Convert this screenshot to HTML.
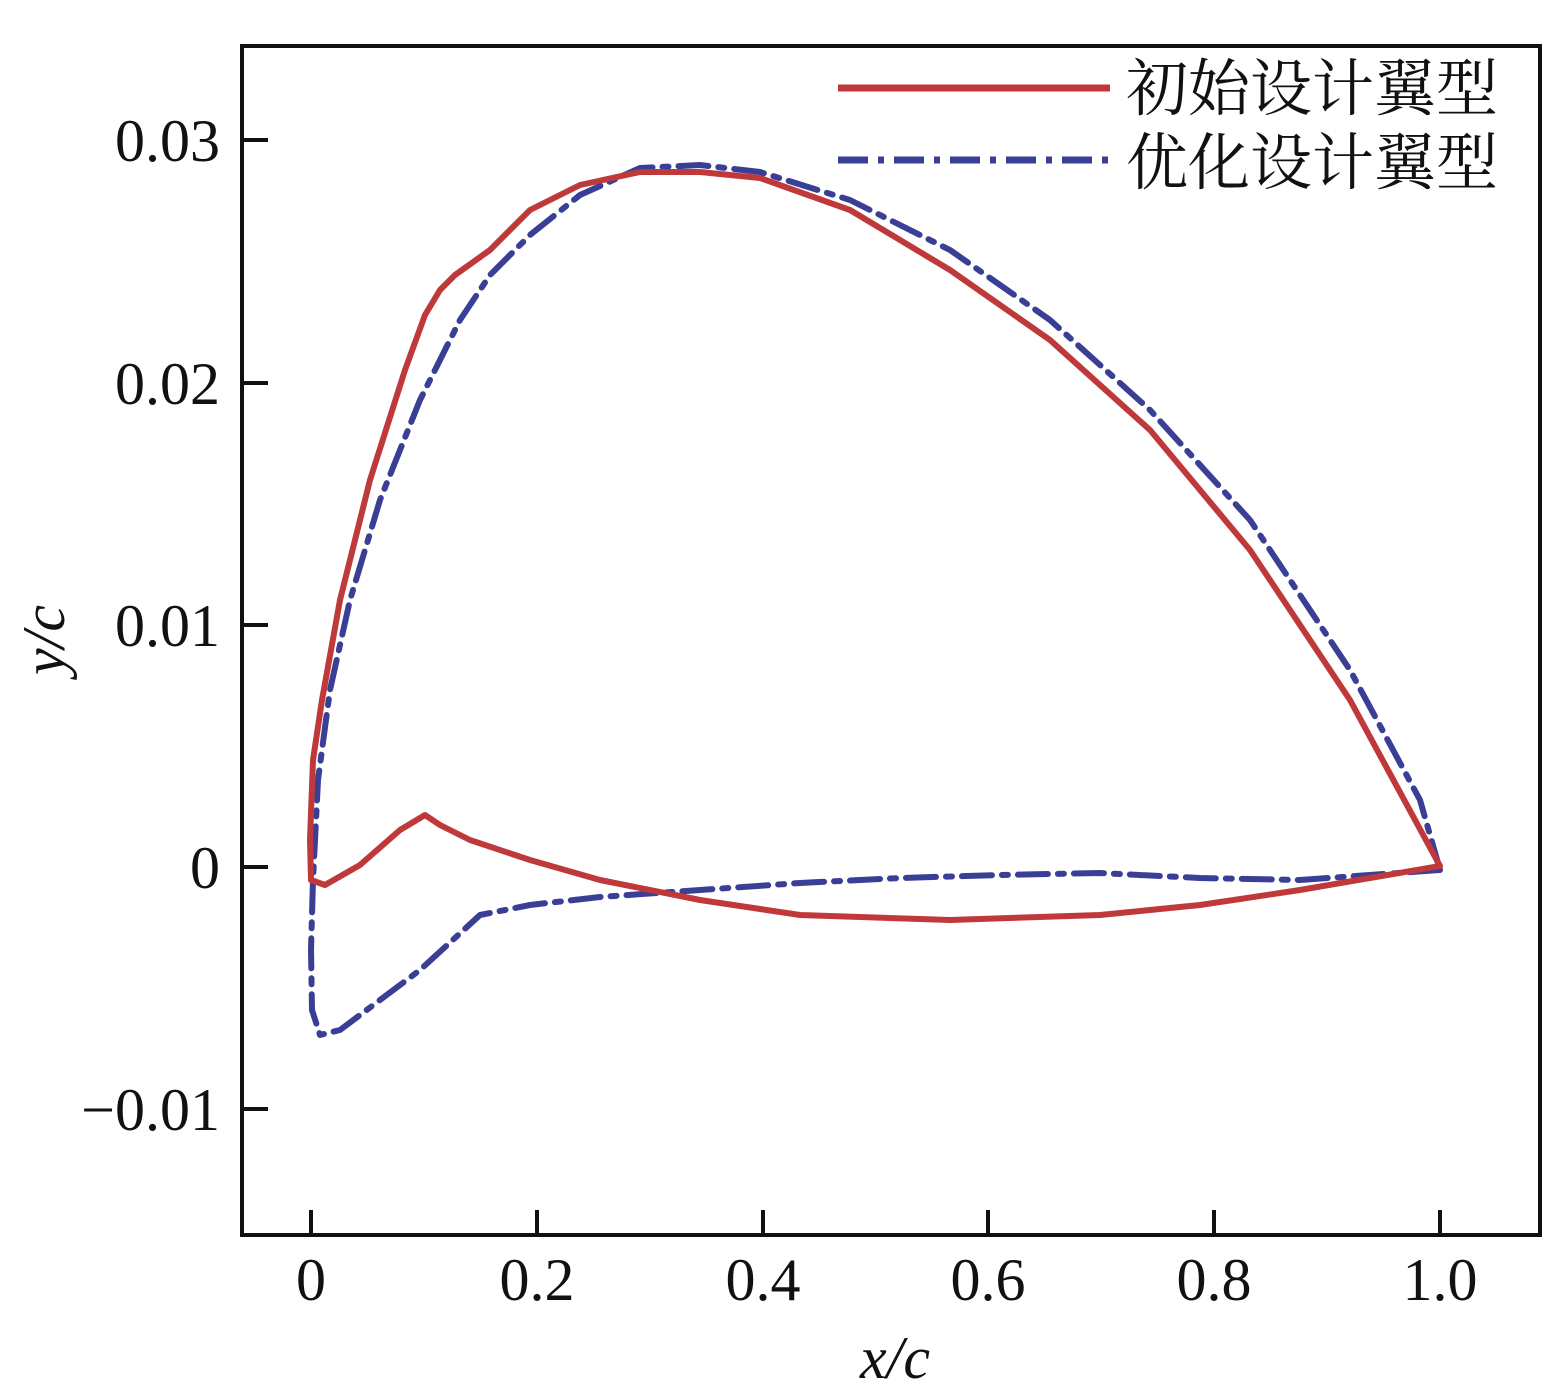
<!DOCTYPE html>
<html><head><meta charset="utf-8"><style>
html,body{margin:0;padding:0;background:#fff;}
svg{display:block;}
text{font-family:"Liberation Serif","Noto Serif CJK SC",serif;fill:#111;}
</style></head><body>
<svg width="1561" height="1398" viewBox="0 0 1561 1398" xmlns="http://www.w3.org/2000/svg">
<rect x="242" y="46" width="1298" height="1189" fill="none" stroke="#111" stroke-width="4"/>
<g stroke="#111" stroke-width="4">
<line x1="242" y1="140" x2="268" y2="140"/>
<line x1="242" y1="383" x2="268" y2="383"/>
<line x1="242" y1="625" x2="268" y2="625"/>
<line x1="242" y1="867" x2="268" y2="867"/>
<line x1="242" y1="1109" x2="268" y2="1109"/>
<line x1="311" y1="1235" x2="311" y2="1210"/>
<line x1="537" y1="1235" x2="537" y2="1210"/>
<line x1="763" y1="1235" x2="763" y2="1210"/>
<line x1="988" y1="1235" x2="988" y2="1210"/>
<line x1="1214" y1="1235" x2="1214" y2="1210"/>
<line x1="1440" y1="1235" x2="1440" y2="1210"/>
</g>
<g font-size="60" text-anchor="end">
<text x="220" y="161">0.03</text>
<text x="220" y="404">0.02</text>
<text x="220" y="646">0.01</text>
<text x="220" y="888">0</text>
<text x="220" y="1130">−0.01</text>
</g>
<g font-size="60" text-anchor="middle">
<text x="311" y="1300">0</text>
<text x="537" y="1300">0.2</text>
<text x="763" y="1300">0.4</text>
<text x="988" y="1300">0.6</text>
<text x="1214" y="1300">0.8</text>
<text x="1440" y="1300">1.0</text>
</g>
<text x="895" y="1378" font-size="60" font-style="italic" text-anchor="middle">x/c</text>
<text transform="translate(64,640) rotate(-90)" font-size="60" font-style="italic" text-anchor="middle">y/c</text>
<g stroke-linejoin="round" stroke-linecap="round">
<path fill="none" stroke="#3a3f96" stroke-width="6" stroke-dasharray="30,10,6,10"
d="M1440,870 L1420,800 L1350,670 L1250,520 L1150,410 L1050,320 L950,250 L850,200 L760,172 L700,165 L640,168 L580,195 L530,235 L490,275 L460,320 L420,400 L380,500 L350,600 L330,690 L318,780 L313,880 L311,950 L312,1010 L320,1035 L340,1030 L380,1000 L420,970 L480,915 L530,905 L600,897 L700,890 L800,883 L900,878 L1000,875 L1100,873 L1200,878 L1300,880 L1440,870"/>
<path fill="none" stroke="#c0393a" stroke-width="6"
d="M1440,866 L1350,700 L1250,550 L1150,430 L1050,340 L950,270 L850,210 L760,178 L700,172 L640,172 L580,185 L530,210 L490,250 L455,275 L440,290 L425,315 L405,370 L370,480 L340,600 L322,700 L313,760 L310,840 L311,880 L325,885 L360,865 L400,830 L425,815 L440,825 L470,840 L530,860 L600,880 L700,900 L800,915 L950,920 L1100,915 L1200,905 L1300,890 L1440,866"/>
</g>
<line x1="838" y1="88" x2="1110" y2="88" stroke="#c0393a" stroke-width="7"/>
<line x1="838" y1="160" x2="1110" y2="160" stroke="#3a3f96" stroke-width="7" stroke-dasharray="30,10,6,10"/>
<g font-size="62" font-family="'Noto Serif CJK SC','Noto Sans CJK SC',serif">
<text x="1126" y="110">初始设计翼型</text>
<text x="1126" y="184">优化设计翼型</text>
</g>
</svg>
</body></html>
